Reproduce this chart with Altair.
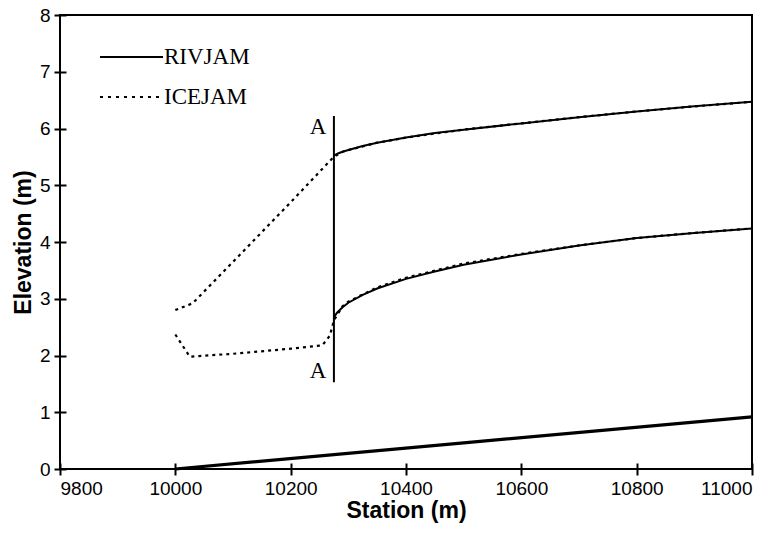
import altair as alt
import pandas as pd

# ---- data ----
x_ticks = [9800, 10000, 10200, 10400, 10600, 10800, 11000]
y_ticks = [0, 1, 2, 3, 4, 5, 6, 7, 8]

# RIVJAM upper water surface (starts at section A)
riv_upper_x = [10275, 10282, 10290, 10300, 10325, 10350, 10400, 10450, 10500, 10600, 10700, 10800, 10900, 11000]
riv_upper_y = [5.52, 5.56, 5.59, 5.62, 5.69, 5.75, 5.84, 5.92, 5.98, 6.09, 6.20, 6.30, 6.39, 6.47]

# RIVJAM lower water surface (starts at section A)
riv_lower_x = [10275, 10280, 10290, 10300, 10325, 10350, 10400, 10450, 10500, 10600, 10700, 10800, 10900, 11000]
riv_lower_y = [2.67, 2.75, 2.85, 2.93, 3.07, 3.18, 3.35, 3.48, 3.60, 3.78, 3.94, 4.07, 4.16, 4.24]

# ICEJAM upper profile
ice_upper_x = [10000, 10030, 10100, 10200, 10270, 10275, 10290, 10300, 10350, 10400, 10500, 10600, 10700, 10800, 10900, 11000]
ice_upper_y = [2.80, 2.92, 3.65, 4.70, 5.45, 5.50, 5.59, 5.62, 5.75, 5.84, 5.98, 6.09, 6.20, 6.30, 6.39, 6.47]

# ICEJAM lower profile
ice_lower_x = [10000, 10025, 10100, 10200, 10255, 10268, 10275, 10290, 10300, 10350, 10400, 10500, 10600, 10700, 10800, 10900, 11000]
ice_lower_y = [2.37, 1.98, 2.03, 2.12, 2.18, 2.35, 2.62, 2.87, 2.95, 3.20, 3.37, 3.62, 3.79, 3.94, 4.07, 4.16, 4.24]

# channel bed
bed_x = [10000, 10500, 11000]
bed_y = [0.0, 0.46, 0.92]

# section A marker
a_x = 10275
a_y = [1.53, 6.22]
a_label_y = [6.02, 1.72]
a_label_x = 10262

legend_names = ["RIVJAM", "ICEJAM"]

# ---- one table for the curves ----
rows = []
def add(name, style, xs, ys):
    for i, (a, b) in enumerate(zip(xs, ys)):
        rows.append(dict(line=name, style=style, order=i, x=a, y=b))

add("riv_upper", "solid", riv_upper_x, riv_upper_y)
add("riv_lower", "solid", riv_lower_x, riv_lower_y)
add("ice_upper", "dotted", ice_upper_x, ice_upper_y)
add("ice_lower", "dotted", ice_lower_x, ice_lower_y)
add("bed", "bed", bed_x, bed_y)
add("A", "alabel", [a_label_x] * 2, a_label_y)
data = pd.DataFrame(rows)
data["lab"] = "A"

arule = pd.DataFrame({"x": [a_x], "y": [a_y[0]], "y2": [a_y[1]]})

W, H = 692, 454
xs = alt.Scale(domain=[9800, 11000], nice=False, zero=False)
ys = alt.Scale(domain=[0, 8], nice=False)

X = alt.X("x:Q", scale=xs, title="Station (m)",
          axis=alt.Axis(values=x_ticks, format="d"))
Y = alt.Y("y:Q", scale=ys, title="Elevation (m)",
          axis=alt.Axis(values=y_ticks, format="d"))

base = alt.Chart(data)

bed_layer = base.transform_filter(alt.datum.style == "bed").mark_line(
    color="black", strokeWidth=3.2).encode(x=X, y=Y, order="order:Q")

solid = base.transform_filter(alt.datum.style == "solid").mark_line(
    color="black", strokeWidth=2).encode(x=X, y=Y, detail="line:N", order="order:Q")

dotted = base.transform_filter(alt.datum.style == "dotted").mark_line(
    color="black", strokeWidth=2.2, strokeDash=[3, 4]).encode(
    x=X, y=Y, detail="line:N", order="order:Q")

a_layer = alt.Chart(arule).mark_rule(color="black", strokeWidth=2).encode(
    x="x:Q", y="y:Q", y2="y2:Q")

a_text = base.transform_filter(alt.datum.style == "alabel").mark_text(
    font="Liberation Serif", fontSize=23, align="right", baseline="middle", color="black"
).encode(x=X, y=Y, text="lab:N")

# legend (drawn manually)
leg = pd.DataFrame({"name": legend_names, "dash": ["solid", "dotted"]})
leg_solid = alt.Chart(leg).transform_filter(alt.datum.dash == "solid").mark_rule(
    color="black", strokeWidth=2.2).encode(x=alt.value(40), x2=alt.value(103), y=alt.value(42))
leg_dot = alt.Chart(leg).transform_filter(alt.datum.dash == "dotted").mark_rule(
    color="black", strokeWidth=2.2, strokeDash=[3, 5]).encode(x=alt.value(40), x2=alt.value(103), y=alt.value(82))
leg_text1 = alt.Chart(leg).transform_filter(alt.datum.dash == "solid").mark_text(
    font="Liberation Serif", fontSize=23, align="left", baseline="middle", color="black"
).encode(x=alt.value(104), y=alt.value(42), text="name:N")
leg_text2 = alt.Chart(leg).transform_filter(alt.datum.dash == "dotted").mark_text(
    font="Liberation Serif", fontSize=23, align="left", baseline="middle", color="black"
).encode(x=alt.value(104), y=alt.value(82), text="name:N")

chart = alt.layer(
    bed_layer, solid, dotted, a_layer, a_text,
    leg_solid, leg_dot, leg_text1, leg_text2
).properties(
    width=W, height=H,
    autosize=alt.AutoSizeParams(type="none"),
    padding={"left": 52, "top": 7, "right": 22, "bottom": 56},
).configure_view(
    stroke="black", strokeWidth=2
).configure_axis(
    grid=False, domain=False,
    ticks=True, tickSize=12, tickWidth=2, tickColor="black", offset=-6,
    labelFont="Liberation Sans", labelFontSize=19, labelColor="black",
    titleFont="Liberation Sans", titleFontSize=23, titleFontWeight="bold", titleColor="black",
    labelPadding=4,
).configure_axisX(titlePadding=1).configure_axisY(titlePadding=4)

chart.save("out.html", embed_options={"renderer": "svg", "actions": False})
